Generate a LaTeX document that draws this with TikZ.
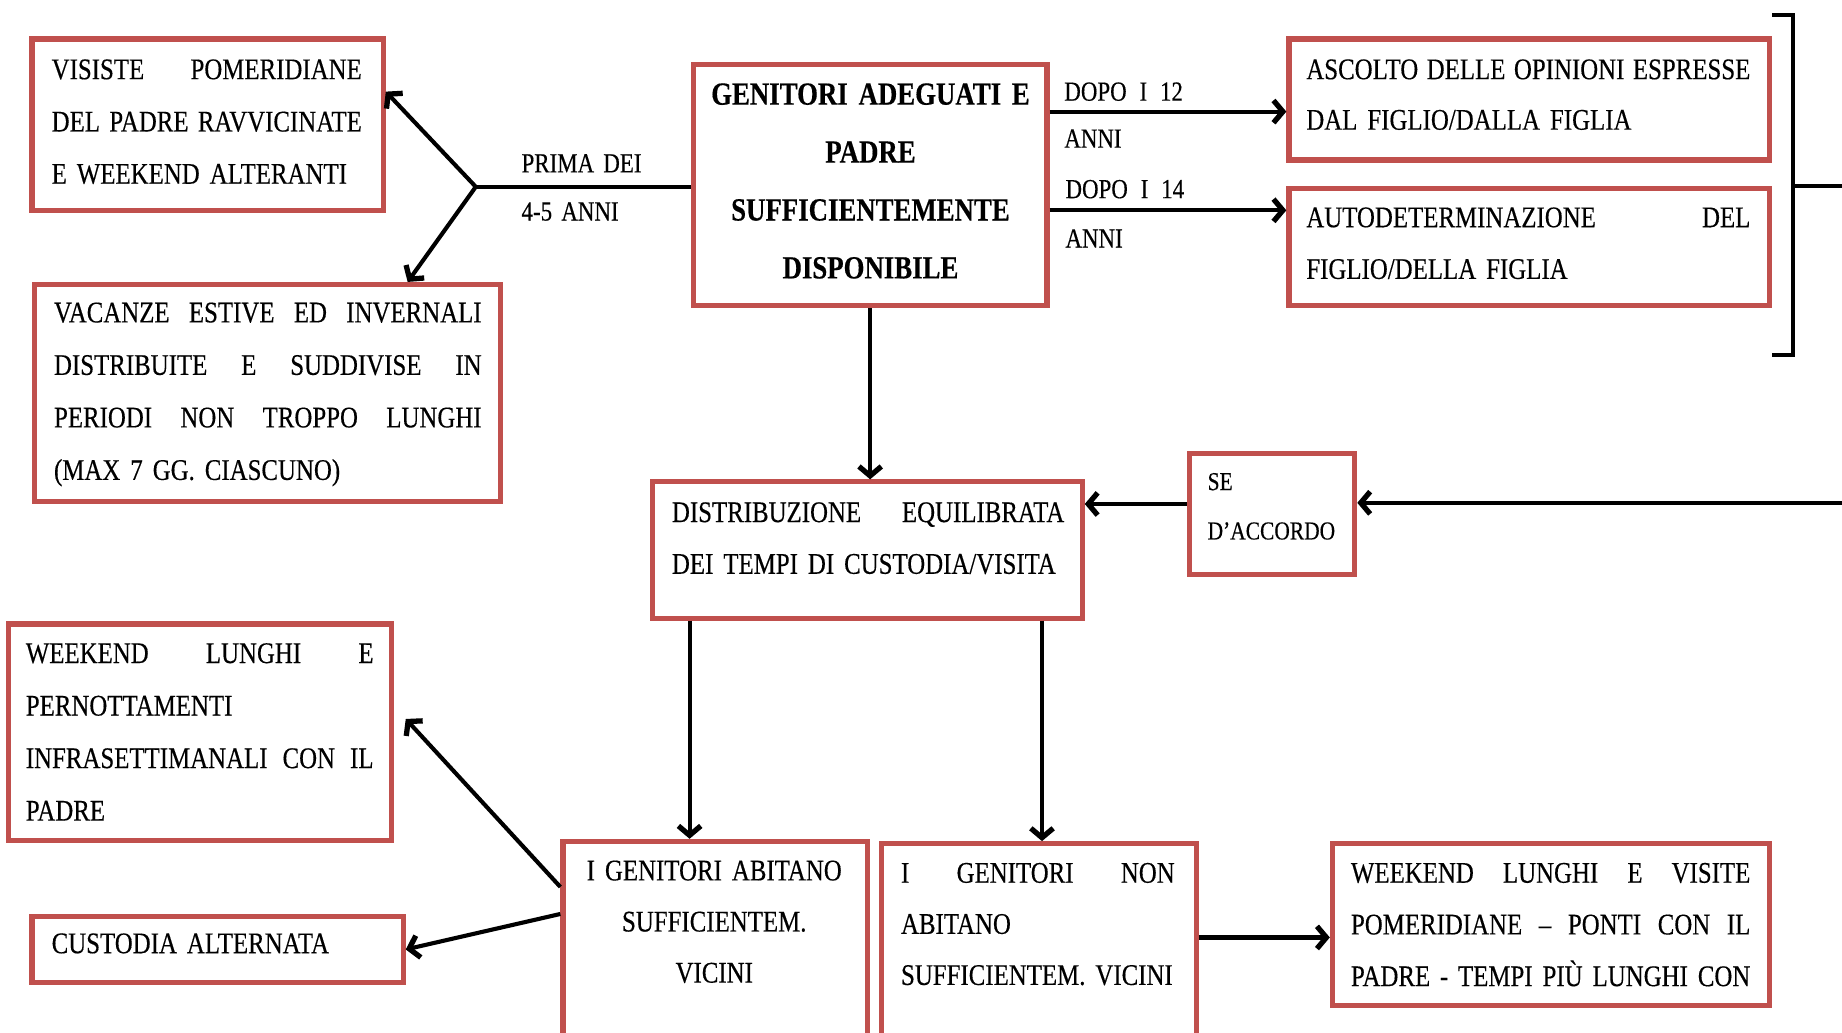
\documentclass[tikz,border=0pt]{standalone}
\usepackage{fontspec}
\setmainfont{Liberation Serif}[FakeStretch=0.83,FakeBold=0.35]
\usetikzlibrary{arrows.meta,calc}
\definecolor{boxred}{RGB}{192,80,77}
\newcommand{\jl}[1]{\leavevmode\hbox to \linewidth{#1}}
\newcommand{\jw}[2]{\leavevmode\hbox to #1{#2}}
\tikzset{
  box/.style={draw=boxred, line width=4.4pt, outer sep=2.2pt, rectangle, inner sep=0pt, anchor=north west},
  txt/.style={inner sep=0pt, outer sep=0pt, anchor=base west, align=left, font=\fontsize{25.5}{44.5}\selectfont},
  lbl/.style={txt, font=\fontsize{23.5}{41}\selectfont},
  conn/.style={line width=3.5pt, draw=black},
  arr/.style={conn, -{Straight Barb[length=8pt,width=19pt,line width=4.5pt]}},
}
\begin{document}
\begin{tikzpicture}[x=1pt,y=1pt]
\useasboundingbox (0,0) rectangle (1568,-879);
\fill[white] (0,0) rectangle (1568,-879);

% boxes
\node[box, minimum width=299pt, minimum height=146pt] (vis) at (25,-31) {};
\node[box, minimum width=397pt, minimum height=185pt] (vac) at (27,-240) {};
\node[box, minimum width=301pt, minimum height=205pt] (main) at (588,-53) {};
\node[box, minimum width=409pt, minimum height=103pt] (asc) at (1095,-31) {};
\node[box, minimum width=409pt, minimum height=100pt] (aut) at (1095,-158) {};
\node[box, minimum width=366pt, minimum height=116pt] (distr) at (553,-408) {};
\node[box, minimum width=141pt, minimum height=103pt] (se) at (1010,-384) {};
\node[box, minimum width=326pt, minimum height=184pt] (wl) at (5,-529) {};
\node[box, minimum width=316pt, minimum height=56pt] (cust) at (25,-778) {};
\node[box, minimum width=259pt, minimum height=220pt] (abit) at (477,-714) {};
\node[box, minimum width=268pt, minimum height=220pt] (nonab) at (748,-716) {};
\node[box, minimum width=372pt, minimum height=138pt] (wv) at (1132,-716) {};

% texts
\node[txt, text width=264pt] (vis-t) at (44,-67.4)
  {\jl{VISISTE\hfill POMERIDIANE}\\\jl{DEL\hfill PADRE\hfill RAVVICINATE}\\E WEEKEND ALTERANTI};
\node[txt, text width=364pt, font=\fontsize{25.5}{44.7}\selectfont] (vac-t) at (46,-274.4)
  {\jl{VACANZE\hfill ESTIVE\hfill ED\hfill INVERNALI}\\\jl{DISTRIBUITE\hfill E\hfill SUDDIVISE\hfill IN}\\\jl{PERIODI\hfill NON\hfill TROPPO\hfill LUNGHI}\\(MAX 7 GG. CIASCUNO)};
\node[lbl, text width=120pt] (prima) at (444,-146.7) {PRIMA DEI\\4-5 ANNI};
\node[txt, anchor=base, align=center, text width=290pt, font=\bfseries\fontsize{27.5}{49.3}\selectfont] (main-t) at (741,-89.1)
  {GENITORI ADEGUATI E\\PADRE\\SUFFICIENTEMENTE\\DISPONIBILE};
\node[lbl, text width=110pt, font=\fontsize{23.5}{40}\selectfont] (d12) at (906,-85.7) {\jw{101pt}{DOPO\hfill I\hfill 12}\\ANNI};
\node[lbl, text width=110pt, font=\fontsize{23.5}{42}\selectfont] (d14) at (907,-168.7) {\jw{101pt}{DOPO\hfill I\hfill 14}\\ANNI};
\node[txt, text width=378pt, font=\fontsize{25.5}{43}\selectfont] (asc-t) at (1112,-67.4)
  {\jl{ASCOLTO\hfill DELLE\hfill OPINIONI\hfill ESPRESSE}\\DAL FIGLIO/DALLA FIGLIA};
\node[txt, text width=378pt, font=\fontsize{25.5}{44}\selectfont] (aut-t) at (1112,-193.4)
  {\jl{AUTODETERMINAZIONE\hfill DEL}\\FIGLIO/DELLA FIGLIA};
\node[txt, text width=334pt, font=\fontsize{25.5}{44}\selectfont] (distr-t) at (572,-444.4)
  {\jl{DISTRIBUZIONE\hfill EQUILIBRATA}\\DEI TEMPI DI CUSTODIA/VISITA};
\node[txt, text width=110pt, font=\fontsize{22}{42}\selectfont] (se-t) at (1028,-417.2) {SE\\D'ACCORDO};
\node[txt, text width=296pt, font=\fontsize{25.5}{44.7}\selectfont] (wl-t) at (22,-564.4)
  {\jl{WEEKEND\hfill LUNGHI\hfill E}\\PERNOTTAMENTI\\\jl{INFRASETTIMANALI\hfill CON\hfill IL}\\PADRE};
\node[txt, text width=270pt] (cust-t) at (44,-811.4) {CUSTODIA ALTERNATA};
\node[txt, anchor=base, align=center, text width=240pt, font=\fontsize{25.5}{43.5}\selectfont] (abit-t) at (608,-749.4)
  {I GENITORI ABITANO\\SUFFICIENTEM.\\VICINI};
\node[txt, text width=233pt, font=\fontsize{25.5}{43.5}\selectfont] (nonab-t) at (767,-751.4)
  {\jl{I\hfill GENITORI\hfill NON}\\ABITANO\\SUFFICIENTEM. VICINI};
\node[txt, text width=340pt, font=\fontsize{25.5}{44}\selectfont] (wv-t) at (1150,-751.4)
  {\jl{WEEKEND\hfill LUNGHI\hfill E\hfill VISITE}\\\jl{POMERIDIANE\hfill –\hfill PONTI\hfill CON\hfill IL}\\\jl{PADRE\hfill -\hfill TEMPI PIÙ LUNGHI CON}};

% connectors
\coordinate (br) at (405,-159);
\draw[conn] (br -| main.west) -- (br);
\draw[arr] (br) -- (vis.east |- 0,-78);
\draw[arr] (br) -- (vac.north -| 347,0);
\draw[arr] (main.east |- 0,-95) -- (asc.west |- 0,-95);
\draw[arr] (main.east |- 0,-179) -- (aut.west |- 0,-179);
% bracket
\coordinate (brk) at (1526,-158);
\coordinate (rEnd) at (1568,-158);
\draw[conn] (asc.east |- 0,-13) -- (1526,-13) -- (1526,-302) -- (aut.east |- 0,-302);
\draw[conn] (brk) -- (rEnd);
\draw[arr] (main.south) -- (main.south |- distr.north);
\coordinate (rIn) at (1568,-428);
\draw[arr] (rIn) -- (se.east |- rIn);
\draw[arr] (se.west |- 0,-429) -- (distr.east |- 0,-429);
\draw[arr] (distr.south -| 587,0) -- (abit.north -| 587,0);
\draw[arr] (distr.south -| 887,0) -- (nonab.north -| 887,0);
\draw[arr] (nonab.east |- 0,-798) -- (wv.west |- 0,-798);
\draw[arr] (abit.west |- 0,-755) -- ($(wl.east |- 0,-612)+(10,0)$);
\draw[arr] (abit.west |- 0,-778) -- (cust.east);
\end{tikzpicture}
\end{document}
